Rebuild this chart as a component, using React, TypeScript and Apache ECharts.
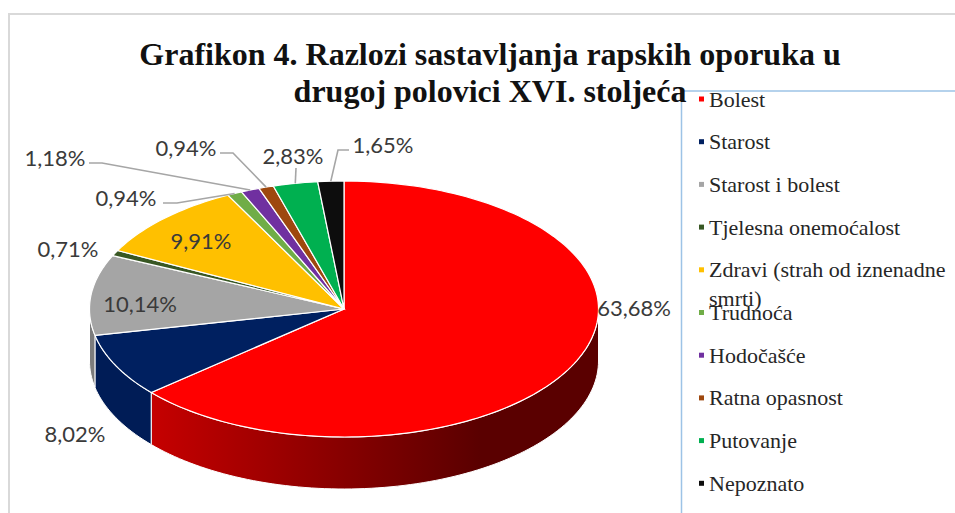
import React, { useEffect, useRef } from "react";
import * as echarts from "echarts";

const categories = [
  "Bolest",
  "Starost",
  "Starost i bolest",
  "Tjelesna onemoćalost",
  "Zdravi (strah od iznenadne smrti)",
  "Trudnoća",
  "Hodočašće",
  "Ratna opasnost",
  "Putovanje",
  "Nepoznato",
];
const shares = [63.68, 8.02, 10.14, 0.71, 9.91, 0.94, 1.18, 0.94, 2.83, 1.65];
const topColors = ["#ff0000", "#002060", "#a5a5a5", "#385723", "#ffc000", "#70ad47", "#7030a0", "#9e480e", "#00b050", "#0d0d0d"];

const titleText = "Grafikon 4. Razlozi sastavljanja rapskih oporuka u\ndrugoj polovici XVI. stoljeća";

// Pie geometry on the page
const CX = 344;
const CY = 309;
const RX = 254.5;
const RY = 128;
const DEPTH = 52;

// Label layout: label centre, and optional leader elbow start
const labelLayout: { x: number; y: number; leader?: number[][] }[] = [
  { x: 634, y: 307 },
  { x: 75, y: 433 },
  { x: 140, y: 303 },
  { x: 68, y: 248 },
  { x: 201, y: 240 },
  { x: 126, y: 197, leader: [[163, 203], [177, 203]] },
  { x: 55, y: 157, leader: [[89, 163], [102, 163]] },
  { x: 186, y: 147, leader: [[220, 153], [233, 153]] },
  { x: 293, y: 155, leader: [[296, 168]] },
  { x: 383, y: 144, leader: [[349, 150], [338, 150]] },
];

const total = shares.reduce((a, b) => a + b, 0);
const startAngle = (i: number) =>
  (shares.slice(0, i).reduce((a, b) => a + b, 0) / total) * 360;

const rim = (deg: number, drop = 0) => {
  const r = (deg * Math.PI) / 180;
  return [CX + RX * Math.sin(r), CY - RY * Math.cos(r) + drop];
};

const arcPoints = (from: number, to: number, drop = 0) => {
  const n = Math.max(2, Math.ceil((to - from) / 1.5));
  const pts: number[][] = [];
  for (let k = 0; k <= n; k++) pts.push(rim(from + ((to - from) * k) / n, drop));
  return pts;
};

const wallFill = (i: number): any => {
  if (i === 0) {
    return new echarts.graphic.LinearGradient(
      150, 0, 480, 0,
      [
        { offset: 0, color: "#c60000" },
        { offset: 1, color: "#5a0000" },
      ],
      true,
    );
  }
  if (i === 1) return "#001c56";
  if (i === 2) return "#7c7c7c";
  return topColors[i];
};

const makeRenderItem = (i: number) => (_p: any, api: any) => {
  const value = api.value(0) as number;
  const a0 = startAngle(i);
  const a1 = a0 + (value / total) * 360;
  const children: any[] = [];

  const w0 = Math.max(a0, 90);
  const w1 = Math.min(a1, 270);
  if (w1 > w0) {
    const front = arcPoints(w0, w1);
    const back = arcPoints(w0, w1, DEPTH).reverse();
    children.push({
      type: "polygon",
      shape: { points: [...front, ...back] },
      style: { fill: wallFill(i), stroke: "#ffffff", lineWidth: 1 },
    });
  }
  children.push({
    type: "polygon",
    shape: { points: [[CX, CY], ...arcPoints(a0, a1)] },
    style: { fill: topColors[i], stroke: "#ffffff", lineWidth: 1.2 },
  });

  const lay = labelLayout[i];
  if (lay.leader) {
    const mid = (a0 + a1) / 2;
    children.push({
      type: "polyline",
      shape: { points: [...lay.leader, rim(mid)] },
      style: { fill: "none", stroke: "#a6a6a6", lineWidth: 1.6 },
    });
  }
  children.push({
    type: "text",
    style: {
      x: lay.x,
      y: lay.y,
      text: value.toFixed(2).replace(".", ",") + "%",
      fill: "#3a3a3a",
      font: '22px Lato, "Open Sans", sans-serif',
      align: "center",
      verticalAlign: "middle",
    },
  });
  return { type: "group", children };
};

export default function App() {
  const ref = useRef<HTMLDivElement>(null);
  useEffect(() => {
    const chart = echarts.init(ref.current!, null, { renderer: "svg" });
    chart.setOption({
      animation: false,
      backgroundColor: "#ffffff",
      title: {
        text: titleText,
        left: 490,
        top: 35,
        padding: 0,
        textAlign: "center",
        textStyle: {
          fontFamily: '"Liberation Serif", serif',
          fontSize: 32,
          fontWeight: "bold",
          color: "#111111",
          lineHeight: 37,
          align: "center",
        },
      },
      legend: {
        orient: "vertical",
        left: 699,
        top: 88,
        padding: 0,
        itemWidth: 5,
        itemHeight: 5,
        itemGap: 20.7,
        icon: "rect",
        selectedMode: false,
        data: categories,
        formatter: (name: string) => name.replace(" smrti)", ""),
        textStyle: {
          fontFamily: '"Liberation Serif", serif',
          fontSize: 22,
          lineHeight: 20,
          color: "#262626",
        },
      },
      graphic: [
        { type: "line", shape: { x1: 9, y1: 14, x2: 955, y2: 14 }, style: { stroke: "#d9d9d9", lineWidth: 2 } },
        { type: "line", shape: { x1: 9, y1: 13, x2: 9, y2: 513 }, style: { stroke: "#d9d9d9", lineWidth: 2 } },
        { type: "line", shape: { x1: 681.5, y1: 91, x2: 955, y2: 91 }, style: { stroke: "#9dc3e6", lineWidth: 1.5 } },
        { type: "line", shape: { x1: 681.5, y1: 90.5, x2: 681.5, y2: 513 }, style: { stroke: "#9dc3e6", lineWidth: 1.5 } },
        {
          type: "text",
          style: {
            x: 709,
            y: 298,
            text: "smrti)",
            fill: "#262626",
            font: '22px "Liberation Serif", serif',
            verticalAlign: "middle",
          },
        },
      ],
      series: categories.map((name, i) => ({
        type: "custom",
        name,
        coordinateSystem: "none",
        silent: true,
        itemStyle: { color: topColors[i] },
        data: [[shares[i]]],
        renderItem: makeRenderItem(i),
      })),
    });
    return () => chart.dispose();
  }, []);
  return (
    <div
      ref={ref}
      style={{ position: "fixed", left: 0, top: 0, width: 955, height: 513 }}
    />
  );
}
